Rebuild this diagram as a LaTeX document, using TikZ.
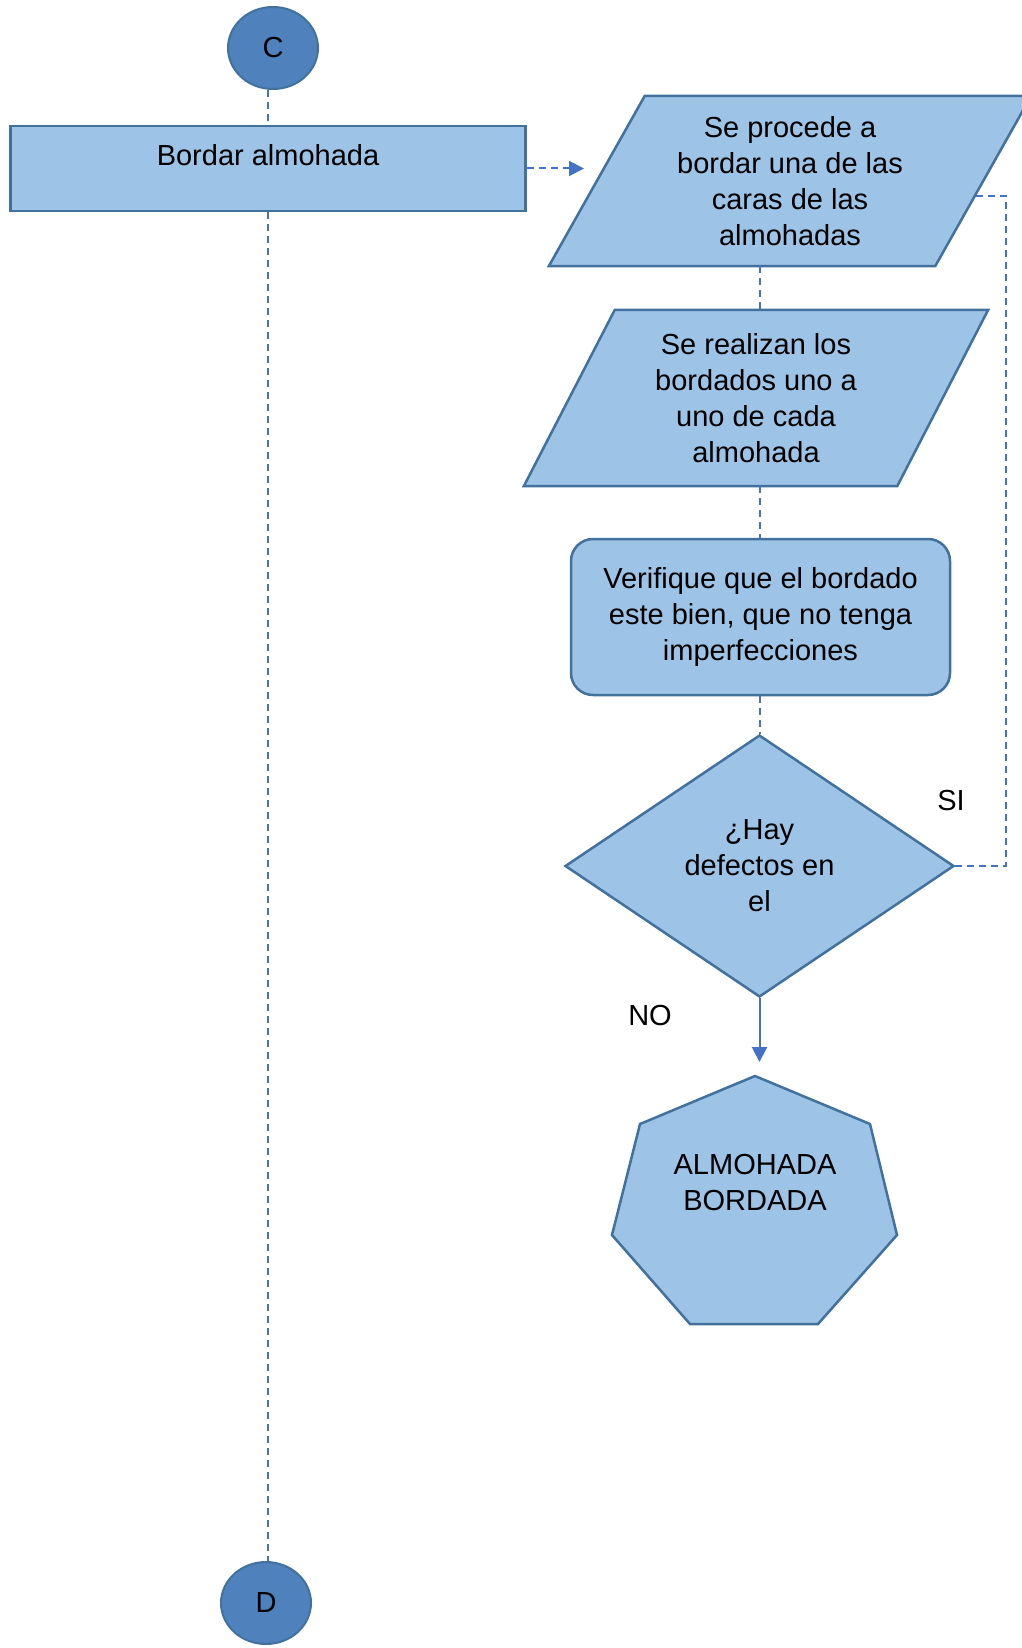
\documentclass[tikz,border=0pt]{standalone}
\usepackage{fontspec}
\setmainfont{Liberation Sans}
\usetikzlibrary{shapes.geometric,arrows.meta,calc,backgrounds}
\definecolor{boxfill}{HTML}{9DC3E6}
\definecolor{boxline}{HTML}{41719C}
\definecolor{circfill}{HTML}{4F81BD}
\definecolor{conn}{HTML}{4472C4}
\begin{document}
\begin{tikzpicture}[x=1pt,y=-1pt,
  every node/.style={font=\fontsize{29}{36}\selectfont, align=center, inner sep=0pt},
  shapebox/.style={fill=boxfill, draw=boxline, line width=2.5pt},
  conncirc/.style={ellipse, fill=circfill, draw=boxline, line width=2pt, minimum width=90pt, minimum height=82pt},
  dashconn/.style={draw=conn, line width=2pt, dash pattern=on 7pt off 5pt},
  solidconn/.style={draw=conn, line width=2pt},
  tip/.style={-{Triangle[length=15pt,width=15pt]}},
]
\useasboundingbox (0,0) rectangle (1021,1648);
\clip (0,0) rectangle (1021,1648);

% nodes
\node[conncirc] (C) at (273,48) {C};
\node[shapebox, rectangle, minimum width=515pt, minimum height=85pt, text height=20pt, text depth=26pt] (task) at (268,168.5) {Bordar almohada};
\node[minimum width=482pt, minimum height=170pt] (p1) at (790,181) {Se procede a\\bordar una de las\\caras de las\\almohadas};
\node[minimum width=464pt, minimum height=176pt] (p2) at (756,398) {Se realizan los\\bordados uno a\\uno de cada\\almohada};
\node[shapebox, rectangle, rounded corners=22pt, minimum width=379pt, minimum height=156pt] (rr) at (760.5,617) {Verifique que el bordado\\este bien, que no tenga\\imperfecciones};
\node[shapebox, diamond, aspect=1.485, minimum width=389pt, minimum height=262pt] (dia) at (759.5,866) {¿Hay\\defectos en\\el};
\draw[shapebox] (755,1076) -- (870,1124) -- (897,1235) -- (818,1324) -- (690,1324) -- (612,1235) -- (640,1124) -- cycle;
\node (hep) at (755,1183) {ALMOHADA\\BORDADA};
\node[conncirc] (D) at (266,1603) {D};
\node (si) at (951,801) {SI};
\node (no) at (650,1016) {NO};

\begin{pgfonlayer}{background}
\draw[shapebox] (p1.south west) -- ($(p1.south east)+(-96,0)$) -- (p1.north east) -- ($(p1.north west)+(96,0)$) -- cycle;
\draw[shapebox] (p2.south west) -- ($(p2.south east)+(-91,0)$) -- (p2.north east) -- ($(p2.north west)+(91,0)$) -- cycle;
\end{pgfonlayer}

% connectors
\coordinate (a1) at (584,168.5);
\coordinate (sitop) at (1006,196);
\coordinate (p1r) at (975,196);
\coordinate (noend) at (759.5,1062);
\draw[dashconn] (C.south -| task.north) -- (task.north);
\draw[dashconn] (task.south) -- (task.south |- D.north);
\draw[dashconn, tip] (task.east) -- (a1);
\draw[dashconn] (p1.south -| dia.north) -- (p2.north -| dia.north);
\draw[dashconn] (p2.south -| dia.north) -- (rr.north -| dia.north);
\draw[dashconn] (rr.south -| dia.north) -- (dia.north);
\draw[dashconn] (dia.east) -- (dia.east -| sitop) -- (sitop) -- (p1r);
\draw[solidconn, tip] (dia.south) -- (noend);
\end{tikzpicture}
\end{document}
